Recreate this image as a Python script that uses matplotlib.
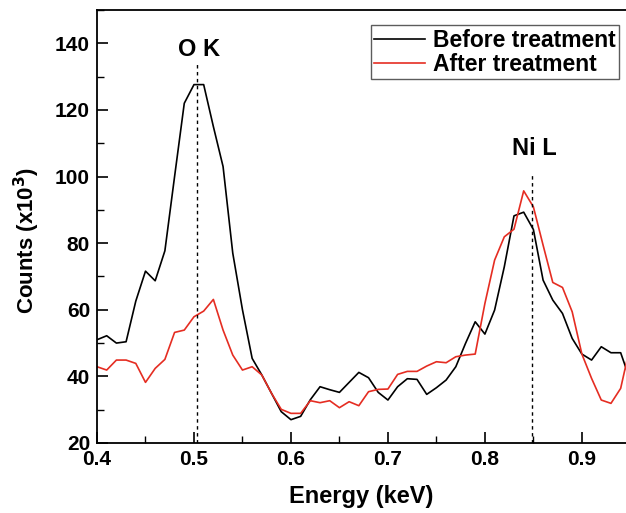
import matplotlib
matplotlib.use("Agg")
import matplotlib.pyplot as plt
from matplotlib.ticker import MultipleLocator
import numpy as np

energy = [0.40, 0.41, 0.42, 0.43, 0.44, 0.45, 0.46, 0.47, 0.48, 0.49,
          0.50, 0.51, 0.52, 0.53, 0.54, 0.55, 0.56, 0.57, 0.58, 0.59,
          0.60, 0.61, 0.62, 0.63, 0.64, 0.65, 0.66, 0.67, 0.68, 0.69,
          0.70, 0.71, 0.72, 0.73, 0.74, 0.75, 0.76, 0.77, 0.78, 0.79,
          0.80, 0.81, 0.82, 0.83, 0.84, 0.85, 0.86, 0.87, 0.88, 0.89,
          0.90, 0.91, 0.92, 0.93, 0.94, 0.95]
before = [51.0, 52.2, 50.0, 50.4, 62.6, 71.6, 68.7, 77.7, 100.0, 122.0,
          127.6, 127.6, 115.0, 103.0, 77.0, 60.0, 45.4, 40.4, 34.9, 29.4,
          27.0, 28.0, 33.0, 36.9, 36.0, 35.2, 38.2, 41.2, 39.6, 35.2,
          32.9, 36.9, 39.3, 39.1, 34.6, 36.6, 38.9, 42.9, 49.9, 56.4,
          52.7, 59.9, 72.9, 88.2, 89.3, 84.1, 68.9, 62.9, 58.9, 51.4,
          46.7, 44.9, 48.9, 47.1, 47.1, 38.7]
after = [42.9, 41.9, 44.9, 44.9, 43.9, 38.2, 42.4, 45.1, 53.2, 53.9,
         57.9, 59.6, 63.1, 53.9, 46.4, 41.9, 42.9, 40.4, 34.9, 30.1,
         28.9, 28.9, 32.7, 32.1, 32.7, 30.6, 32.4, 31.2, 35.4, 36.1,
         36.2, 40.6, 41.5, 41.5, 43.1, 44.4, 44.1, 45.9, 46.4, 46.7,
         61.9, 74.9, 81.9, 84.2, 95.7, 90.9, 79.4, 68.2, 66.7, 59.4,
         46.7, 39.4, 32.9, 31.9, 36.4, 49.4]
peak_labels = ["O K", "Ni L"]
peak_pos = [0.503, 0.849]
peak_text_y = [138, 108.4]
peak_line_top = [134.5, 101]

plt.rcParams['font.family'] = ['Liberation Sans', 'DejaVu Sans']
plt.rcParams['font.weight'] = 'bold'

fig = plt.figure(figsize=(6.26, 5.13), dpi=100)
ax = fig.add_axes([97/626, 1 - 443/513, 529/626, 433/513])

ax.plot(energy, before, color='black', lw=1.2, label='Before treatment')
ax.plot(energy, after, color='#e52d22', lw=1.2, label='After treatment')

for lab, xp, ty, lt in zip(peak_labels, peak_pos, peak_text_y, peak_line_top):
    ax.plot([xp, xp], [20, lt], color='black', lw=1.0, ls=(0, (2.5, 2.5)))
    ax.text(xp + 0.002, ty, lab, ha='center', va='center', fontsize=17, fontweight='bold')

ax.set_xlim(0.4, 0.9455)
ax.set_ylim(20, 150)
ax.xaxis.set_major_locator(MultipleLocator(0.1))
ax.xaxis.set_minor_locator(MultipleLocator(0.05))
ax.yaxis.set_major_locator(MultipleLocator(20))
ax.yaxis.set_minor_locator(MultipleLocator(10))
ax.tick_params(which='major', direction='in', length=8, width=1.2, labelsize=15, pad=5)
ax.tick_params(which='minor', direction='in', length=5, width=1.0)
ax.tick_params(top=False, right=False)
for s in ['left', 'bottom', 'top']:
    ax.spines[s].set_linewidth(1.3)
ax.spines['right'].set_visible(False)
for t in ax.get_xticklabels() + ax.get_yticklabels():
    t.set_fontweight('bold')

ax.set_xlabel('Energy (keV)', fontsize=17, fontweight='bold')
ax.set_ylabel('Counts (x10$^\\mathbf{3}$)', fontsize=16, fontweight='bold')
ax.xaxis.set_label_coords((361 - 97) / 529, -(496 - 443) / 433)
ax.yaxis.set_label_coords(-(97 - 27) / 529, (443 - 240) / 433)
ax.xaxis.label.set_va('center')
ax.yaxis.label.set_va('center')

leg = ax.legend(loc='upper right', bbox_to_anchor=(0.987, 0.965), fontsize=16.5,
                frameon=True, fancybox=False, borderpad=0.15, handlelength=2.2,
                handletextpad=0.35, labelspacing=0.05, borderaxespad=0)
leg.get_frame().set_edgecolor('#333333')
leg.get_frame().set_linewidth(1.0)
for t in leg.get_texts():
    t.set_fontweight('bold')

fig.savefig('out.png', dpi=100)
